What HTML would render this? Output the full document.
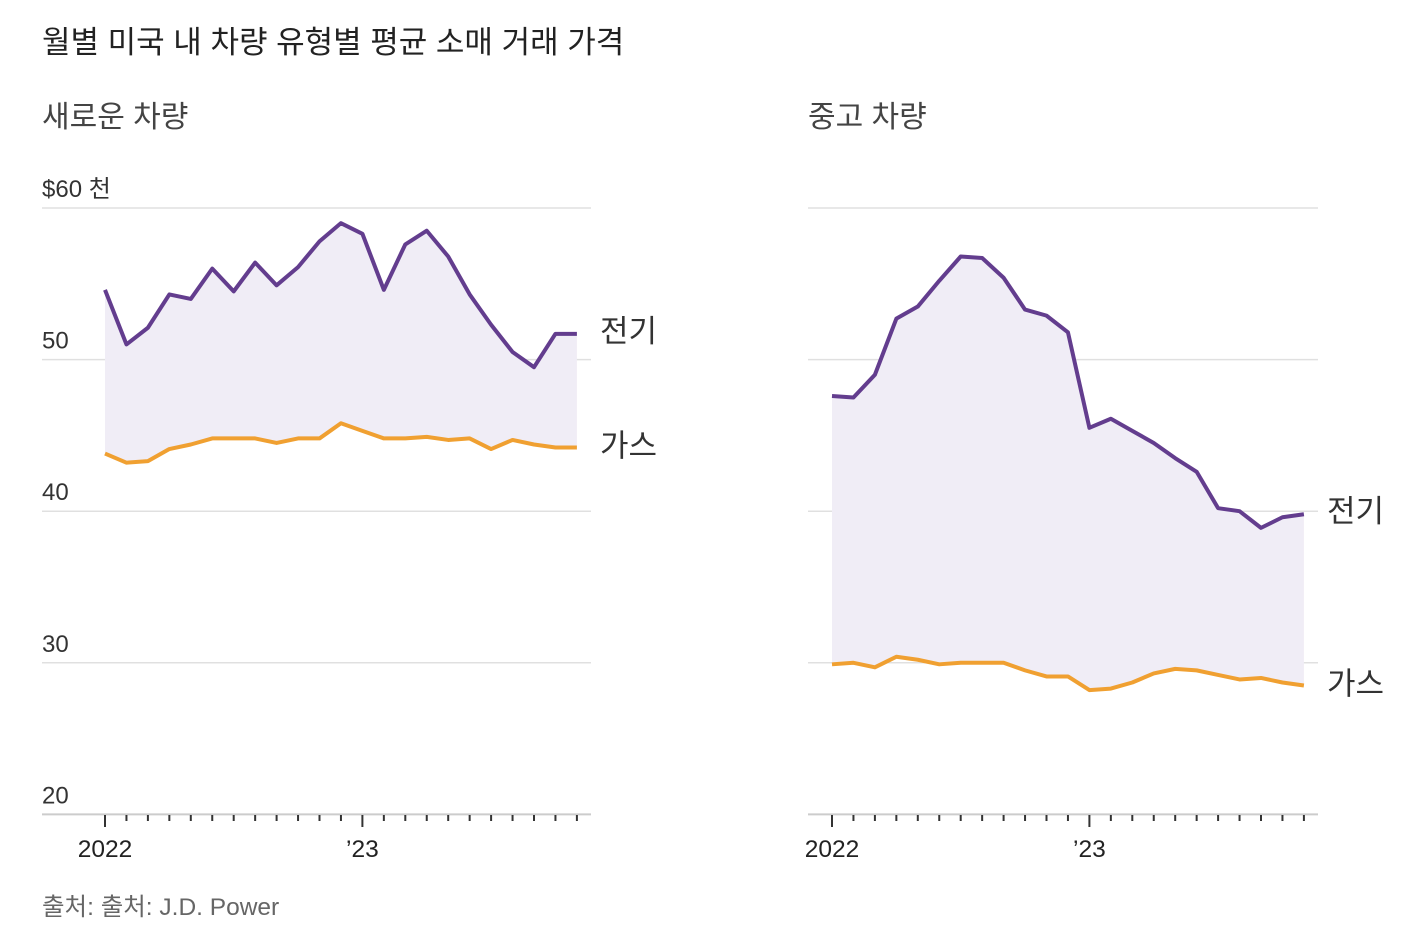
<!DOCTYPE html>
<html><head><meta charset="utf-8"><style>
body{margin:0;background:#fff;width:1426px;height:935px;overflow:hidden;font-family:"Liberation Sans","Noto Sans CJK KR",sans-serif}
svg text{font-family:"Liberation Sans","Noto Sans CJK KR",sans-serif}
</style></head><body>
<svg id="c" width="1426" height="935">
<text x="42" y="53" font-size="31" fill="#222">월별 미국 내 차량 유형별 평균 소매 거래 가격</text>
<text x="42" y="127" font-size="30" fill="#444">새로운 차량</text>
<text x="808" y="127" font-size="30" fill="#444">중고 차량</text>
<text x="42" y="915" font-size="24.5" fill="#666">출처: 출처: J.D. Power</text>
</svg>
<script>
const months = 23;
const yTicks = [60,50,40,30,20];
const yTickLabels = ['$60 천','50','40','30','20'];
const newElectric = [54.6,51.0,52.1,54.3,54.0,56.0,54.5,56.4,54.9,56.1,57.8,59.0,58.3,54.6,57.6,58.5,56.8,54.3,52.3,50.5,49.5,51.7,51.7];
const newGas = [43.8,43.2,43.3,44.1,44.4,44.8,44.8,44.8,44.5,44.8,44.8,45.8,45.3,44.8,44.8,44.9,44.7,44.8,44.1,44.7,44.4,44.2,44.2];
const usedElectric = [47.6,47.5,49.0,52.7,53.5,55.2,56.8,56.7,55.4,53.3,52.9,51.8,45.5,46.1,45.3,44.5,43.5,42.6,40.2,40.0,38.9,39.6,39.8];
const usedGas = [29.9,30.0,29.7,30.4,30.2,29.9,30.0,30.0,30.0,29.5,29.1,29.1,28.2,28.3,28.7,29.3,29.6,29.5,29.2,28.9,29.0,28.7,28.5];
const xLabels = [[0,'2022'],[12,'\u201923']];
const NS='http://www.w3.org/2000/svg', svg=document.getElementById('c');
function y(v){return 208+(60-v)*15.16;}
function mk(t,a,p){const e=document.createElementNS(NS,t);for(const k in a)e.setAttribute(k,a[k]);(p||svg).appendChild(e);return e;}
function panel(x0,gx0,gx1,elec,gas,labels,name){
  const x=i=>x0+i*21.45;
  yTicks.forEach((t,i)=>{
    const l=mk('line',{x1:gx0,x2:gx1,y1:y(t),y2:y(t),stroke:i==4?'#ccc':'#e0e0e0','stroke-width':i==4?2:1.5});
    
    
    if(labels){const tx=mk('text',{x:42,y:y(t)-11,'font-size':24,fill:'#333'});tx.textContent=yTickLabels[i];
      
      }
  });
  let d='';elec.forEach((v,i)=>d+=(i?'L':'M')+x(i)+','+y(v));
  let g='';for(let i=gas.length-1;i>=0;i--)g+='L'+x(i)+','+y(gas[i]);
  const a=mk('path',{d:d+g+'Z',fill:'#f0edf6'});
  
  
  const le=mk('path',{d:d,fill:'none',stroke:'#633d8e','stroke-width':4,'stroke-linejoin':'round'});
  
  
  let gd='';gas.forEach((v,i)=>gd+=(i?'L':'M')+x(i)+','+y(v));
  const lg=mk('path',{d:gd,fill:'none',stroke:'#f0a031','stroke-width':4,'stroke-linejoin':'round'});
  
  
  for(let i=0;i<months;i++){
    const major=i%12==0;
    const t=mk('line',{x1:x(i),x2:x(i),y1:815,y2:major?827:821,stroke:'#333','stroke-width':2});
    
    
  }
  xLabels.forEach(([i,s])=>{const t=mk('text',{x:x(i),y:857,'font-size':24.5,fill:'#222','text-anchor':'middle'});t.textContent=s;
    
    });
  const ev=elec[elec.length-1],gv=gas[gas.length-1];
  const t1=mk('text',{x:gx1+9,y:y(ev)+8,'font-size':31,fill:'#333'});t1.textContent='전기';
  
  
  const t2=mk('text',{x:gx1+9,y:y(gv)+9,'font-size':31,fill:'#333'});t2.textContent='가스';
  
  
}
panel(105,42,591,newElectric,newGas,true,'new');
panel(832,808,1318,usedElectric,usedGas,false,'used');
</script>
</body></html>
